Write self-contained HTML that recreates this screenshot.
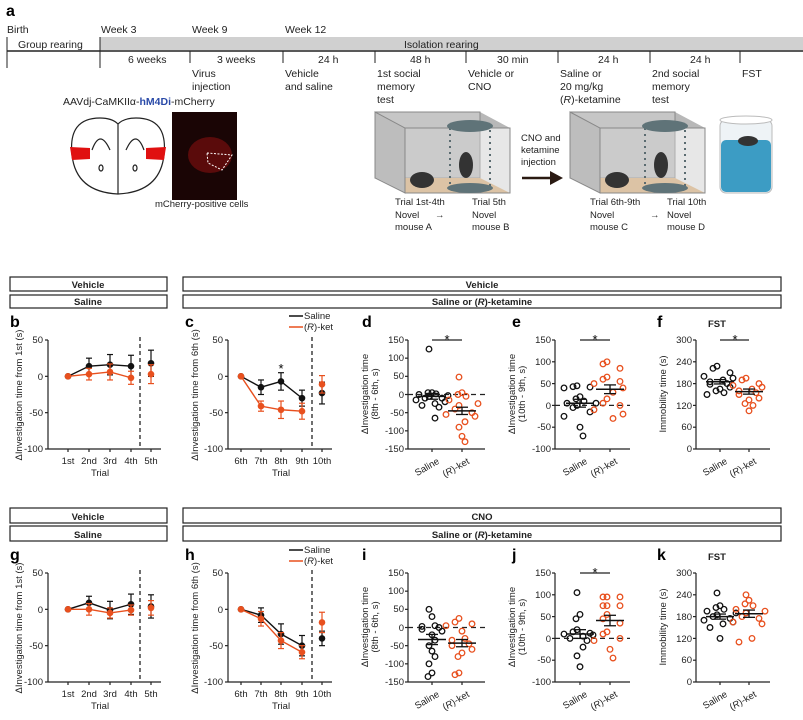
<!DOCTYPE html>
<html><head><meta charset="utf-8"><style>
body{margin:0;background:#fff}
svg{display:block;font-family:"Liberation Sans",sans-serif}
.t{font-size:10.5px;fill:#222}
.s{font-size:9.5px;fill:#222}
.b{font-weight:bold}
.L{font-size:16px;font-weight:bold}
</style></head><body>
<svg id="g" width="803" height="720" viewBox="0 0 803 720" xmlns="http://www.w3.org/2000/svg">
<rect width="803" height="720" fill="#fff"/>
<text x="6" y="16" class="L">a</text>
<g class="t">
<text x="7" y="33">Birth</text><text x="101" y="33">Week 3</text><text x="192" y="33">Week 9</text><text x="285" y="33">Week 12</text>
</g>
<rect x="100" y="37" width="703" height="13" fill="#d0d0d0"/>
<text x="404" y="48" class="t">Isolation rearing</text>
<text x="18" y="48" class="t">Group rearing</text>
<line x1="7" y1="37" x2="7" y2="68" stroke="#222"/>
<line x1="100" y1="37" x2="100" y2="68" stroke="#222"/>
<line x1="7" y1="51" x2="803" y2="51" stroke="#222" stroke-width="1.5"/>
<g stroke="#222"><line x1="190" y1="51" x2="190" y2="63"/><line x1="283" y1="51" x2="283" y2="63"/><line x1="375" y1="51" x2="375" y2="63"/><line x1="466" y1="51" x2="466" y2="63"/><line x1="558" y1="51" x2="558" y2="63"/><line x1="650" y1="51" x2="650" y2="63"/><line x1="740" y1="51" x2="740" y2="63"/></g>
<g class="t">
<text x="128" y="63">6 weeks</text><text x="217" y="63">3 weeks</text><text x="318" y="63">24 h</text><text x="410" y="63">48 h</text><text x="497" y="63">30 min</text><text x="598" y="63">24 h</text><text x="690" y="63">24 h</text>
<text x="192" y="77">Virus</text><text x="192" y="90">injection</text>
<text x="285" y="77">Vehicle</text><text x="285" y="90">and saline</text>
<text x="377" y="77">1st social</text><text x="377" y="90">memory</text><text x="377" y="103">test</text>
<text x="468" y="77">Vehicle or</text><text x="468" y="90">CNO</text>
<text x="560" y="77">Saline or</text><text x="560" y="90">20 mg/kg</text><text x="560" y="103">(<tspan font-style="italic">R</tspan>)-ketamine</text>
<text x="652" y="77">2nd social</text><text x="652" y="90">memory</text><text x="652" y="103">test</text>
<text x="742" y="77">FST</text>
<text x="63" y="105">AAVdj-CaMKIIα-<tspan class="b" fill="#2a4aa8">hM4Di</tspan>-mCherry</text>
</g>
<g stroke="#222" stroke-width="1.2" fill="#fff">
<path d="M72 155 Q68 118 100 118 Q112 118 118 124 Q124 118 136 118 Q168 118 164 155 Q160 192 118 194 Q76 192 72 155Z"/>
<line x1="118" y1="124" x2="118" y2="194"/>
<path d="M92 150 Q100 128 110 150" fill="none"/><path d="M126 150 Q136 128 144 150" fill="none"/>
<ellipse cx="101" cy="168" rx="2" ry="3"/><ellipse cx="135" cy="168" rx="2" ry="3"/>
</g>
<polygon points="70,147 90,148 90,159 72,160" fill="#e01010"/><polygon points="146,148 166,147 164,160 146,159" fill="#e01010"/>
<rect x="172" y="112" width="65" height="88" fill="#1a0505"/>
<ellipse cx="210" cy="155" rx="22" ry="18" fill="#6a0c0c" opacity=".8"/>
<polygon points="207,153 232,155 222,170 208,163" fill="none" stroke="#fff" stroke-dasharray="2,1.5"/>
<text x="155" y="207" class="s">mCherry-positive cells</text>
<g id="cage1">
<polygon points="375,112 480,112 510,128 405,128" fill="#b8b8b8"/>
<rect x="375" y="112" width="105" height="66" fill="#c6c6c6" stroke="#888"/>
<polygon points="375,178 480,178 510,193 405,193" fill="#e8b67a"/>
<polygon points="375,112 405,128 405,193 375,178" fill="#bdbdbd" stroke="#888"/>
<rect x="405" y="128" width="105" height="65" fill="#cfcfcf" fill-opacity=".5" stroke="#888"/>
<rect x="450" y="128" width="40" height="60" fill="none" stroke="#5a6b70" stroke-width="2" stroke-dasharray="2,4"/>
<ellipse cx="470" cy="126" rx="23" ry="6" fill="#5f7378"/>
<ellipse cx="470" cy="188" rx="23" ry="5" fill="#5f7378"/>
<ellipse cx="422" cy="180" rx="12" ry="8" fill="#333"/>
<ellipse cx="466" cy="165" rx="7" ry="13" fill="#333"/>
</g>
<use href="#cage1" x="195"/>
<g class="s">
<text x="395" y="205">Trial 1st-4th</text><text x="395" y="218">Novel</text><text x="395" y="230">mouse A</text>
<text x="435" y="218">→</text>
<text x="472" y="205">Trial 5th</text><text x="472" y="218">Novel</text><text x="472" y="230">mouse B</text>
<text x="590" y="205">Trial 6th-9th</text><text x="590" y="218">Novel</text><text x="590" y="230">mouse C</text>
<text x="650" y="218">→</text>
<text x="667" y="205">Trial 10th</text><text x="667" y="218">Novel</text><text x="667" y="230">mouse D</text>
<text x="521" y="141">CNO and</text><text x="521" y="153">ketamine</text><text x="521" y="165">injection</text>
</g>
<line x1="522" y1="178" x2="552" y2="178" stroke="#2a1a12" stroke-width="2.5"/><polygon points="550,171 563,178 550,185" fill="#2a1a12"/>
<rect x="720" y="120" width="52" height="73" rx="6" fill="#eef3f6" stroke="#bbb"/>
<rect x="721" y="140" width="50" height="52" rx="5" fill="#3c9cc4"/>
<ellipse cx="746" cy="120" rx="26" ry="4" fill="#fff" stroke="#bbb"/>
<ellipse cx="748" cy="141" rx="10" ry="5" fill="#333"/>

<g fill="none" stroke="#222" stroke-width="1.2">
<rect x="10" y="277" width="157" height="14"/><rect x="10" y="295" width="157" height="13"/>
<rect x="183" y="277" width="598" height="14"/><rect x="183" y="295" width="598" height="13"/>
<rect x="10" y="508" width="157" height="15"/><rect x="10" y="526" width="157" height="15"/>
<rect x="183" y="508" width="598" height="15"/><rect x="183" y="526" width="598" height="15"/>
</g>
<g class="s b" text-anchor="middle">
<text x="88" y="288">Vehicle</text><text x="88" y="305">Saline</text>
<text x="482" y="288">Vehicle</text><text x="482" y="305">Saline or (<tspan font-style="italic">R</tspan>)-ketamine</text>
<text x="88" y="520">Vehicle</text><text x="88" y="538">Saline</text>
<text x="482" y="520">CNO</text><text x="482" y="538">Saline or (<tspan font-style="italic">R</tspan>)-ketamine</text>
</g>
<g class="L"><text x="10" y="327">b</text><text x="185" y="327">c</text><text x="362" y="327">d</text><text x="512" y="327">e</text><text x="657" y="327">f</text>
<text x="10" y="560">g</text><text x="185" y="560">h</text><text x="362" y="560">i</text><text x="512" y="560">j</text><text x="657" y="560">k</text></g>
<g class="s b"><text x="708" y="327">FST</text><text x="708" y="560">FST</text></g>
<g class="s">
<line x1="289" y1="316" x2="303" y2="316" stroke="#111" stroke-width="1.5"/><text x="304" y="319">Saline</text>
<line x1="289" y1="327" x2="303" y2="327" stroke="#e8501e" stroke-width="1.5"/><text x="304" y="330">(<tspan font-style="italic">R</tspan>)-ket</text>
<line x1="289" y1="550" x2="303" y2="550" stroke="#111" stroke-width="1.5"/><text x="304" y="553">Saline</text>
<line x1="289" y1="561" x2="303" y2="561" stroke="#e8501e" stroke-width="1.5"/><text x="304" y="564">(<tspan font-style="italic">R</tspan>)-ket</text>
</g>
<g class="s" text-anchor="middle">
<text transform="translate(22,395) rotate(-90)">ΔInvestigation time from 1st (s)</text>
<text transform="translate(198,395) rotate(-90)">ΔInvestigation time from 6th (s)</text>
<text transform="translate(22,628) rotate(-90)">ΔInvestigation time from 1st (s)</text>
<text transform="translate(198,628) rotate(-90)">ΔInvestigation time from 6th (s)</text>
<text transform="translate(368,394) rotate(-90)">ΔInvestigation time</text><text transform="translate(378,394) rotate(-90)">(8th - 6th, s)</text>
<text transform="translate(515,394) rotate(-90)">ΔInvestigation time</text><text transform="translate(525,394) rotate(-90)">(10th - 9th, s)</text>
<text transform="translate(666,394) rotate(-90)">Immobility time (s)</text>
<text transform="translate(368,627) rotate(-90)">ΔInvestigation time</text><text transform="translate(378,627) rotate(-90)">(8th - 6th, s)</text>
<text transform="translate(515,627) rotate(-90)">ΔInvestigation time</text><text transform="translate(525,627) rotate(-90)">(10th - 9th, s)</text>
<text transform="translate(666,627) rotate(-90)">Immobility time (s)</text>
</g>
<g class="s" text-anchor="end">
<text x="43" y="343">50</text><text x="43" y="380">0</text><text x="43" y="416">-50</text><text x="43" y="452">-100</text>
<text x="223" y="343">50</text><text x="223" y="380">0</text><text x="223" y="416">-50</text><text x="223" y="452">-100</text>
<text x="43" y="576">50</text><text x="43" y="613">0</text><text x="43" y="649">-50</text><text x="43" y="685">-100</text>
<text x="223" y="576">50</text><text x="223" y="613">0</text><text x="223" y="649">-50</text><text x="223" y="685">-100</text>
</g>
<g class="s" text-anchor="middle">
<text x="68" y="464">1st</text><text x="89" y="464">2nd</text><text x="110" y="464">3rd</text><text x="131" y="464">4th</text><text x="151" y="464">5th</text><text x="100" y="476">Trial</text>
<text x="241" y="464">6th</text><text x="261" y="464">7th</text><text x="281" y="464">8th</text><text x="302" y="464">9th</text><text x="322" y="464">10th</text><text x="281" y="476">Trial</text>
<text x="68" y="697">1st</text><text x="89" y="697">2nd</text><text x="110" y="697">3rd</text><text x="131" y="697">4th</text><text x="151" y="697">5th</text><text x="100" y="709">Trial</text>
<text x="241" y="697">6th</text><text x="261" y="697">7th</text><text x="281" y="697">8th</text><text x="302" y="697">9th</text><text x="322" y="697">10th</text><text x="281" y="709">Trial</text>
</g>
<g class="s" text-anchor="end">
<text x="404" y="343">150</text><text x="404" y="361">100</text><text x="404" y="379">50</text><text x="404" y="398">0</text><text x="404" y="416">-50</text><text x="404" y="434">-100</text><text x="404" y="452">-150</text>
<text x="551" y="343">150</text><text x="551" y="365">100</text><text x="551" y="387">50</text><text x="551" y="409">0</text><text x="551" y="430">-50</text><text x="551" y="452">-100</text>
<text x="692" y="343">300</text><text x="692" y="365">240</text><text x="692" y="387">180</text><text x="692" y="409">120</text><text x="692" y="430">60</text><text x="692" y="452">0</text>
<text x="404" y="576">150</text><text x="404" y="594">100</text><text x="404" y="612">50</text><text x="404" y="631">0</text><text x="404" y="649">-50</text><text x="404" y="667">-100</text><text x="404" y="685">-150</text>
<text x="551" y="576">150</text><text x="551" y="598">100</text><text x="551" y="620">50</text><text x="551" y="642">0</text><text x="551" y="663">-50</text><text x="551" y="685">-100</text>
<text x="692" y="576">300</text><text x="692" y="598">240</text><text x="692" y="620">180</text><text x="692" y="642">120</text><text x="692" y="663">60</text><text x="692" y="685">0</text>
</g>
<g class="s" text-anchor="end">
<text transform="translate(440,463) rotate(-30)">Saline</text><text transform="translate(470,463) rotate(-30)">(<tspan font-style="italic">R</tspan>)-ket</text>
<text transform="translate(588,463) rotate(-30)">Saline</text><text transform="translate(618,463) rotate(-30)">(<tspan font-style="italic">R</tspan>)-ket</text>
<text transform="translate(728,463) rotate(-30)">Saline</text><text transform="translate(757,463) rotate(-30)">(<tspan font-style="italic">R</tspan>)-ket</text>
<text transform="translate(440,696) rotate(-30)">Saline</text><text transform="translate(470,696) rotate(-30)">(<tspan font-style="italic">R</tspan>)-ket</text>
<text transform="translate(588,696) rotate(-30)">Saline</text><text transform="translate(618,696) rotate(-30)">(<tspan font-style="italic">R</tspan>)-ket</text>
<text transform="translate(728,696) rotate(-30)">Saline</text><text transform="translate(757,696) rotate(-30)">(<tspan font-style="italic">R</tspan>)-ket</text>
</g>
<g font-size="13" text-anchor="middle"><text x="281" y="373">*</text><text x="447" y="344">*</text><text x="595" y="344">*</text><text x="735" y="344">*</text><text x="595" y="577">*</text></g>
<g id="dyn"></g>
</svg>
<script>
var NS="http://www.w3.org/2000/svg",D=document.getElementById("dyn");
function el(n,a){var e=document.createElementNS(NS,n);for(var k in a)e.setAttribute(k,a[k]);D.appendChild(e);return e;}
function ln(x1,y1,x2,y2,c,w,da){var a={x1:x1,y1:y1,x2:x2,y2:y2,stroke:c||"#222","stroke-width":w||1.2};if(da)a["stroke-dasharray"]=da;el("line",a);}
function axes(x0,x1,yT,yB,nt){ln(x0,yT,x0,yB);ln(x0,yB,x1,yB);for(var i=0;i<nt;i++){var y=yT+(yB-yT)*i/(nt-1);ln(x0-3,y,x0,y);}}
var K="#111",R="#e8501e";
function line(x0,yT,yB,mx,mn,xs,dash,b,be,r,re){
 axes(x0,x0+(xs[4]+10-x0),yT,yB,4);xs.forEach(function(x){ln(x,yB,x,yB+3)});
 ln(dash,yT-3,dash,yB,"#222",1.3,"4,3");
 function Y(v){return yT+(mx-v)/(mx-mn)*(yB-yT);}
 [[b,be,K],[r,re,R]].forEach(function(s){var d=s[0],e=s[1],c=s[2];
  var p="";for(var i=0;i<4;i++)p+=(i?"L":"M")+xs[i]+" "+Y(d[i]);
  el("path",{d:p,fill:"none",stroke:c,"stroke-width":1.4});
  for(var i=0;i<5;i++){if(e[i]){ln(xs[i],Y(d[i]-e[i]),xs[i],Y(d[i]+e[i]),c,1.2);ln(xs[i]-3,Y(d[i]-e[i]),xs[i]+3,Y(d[i]-e[i]),c,1.2);ln(xs[i]-3,Y(d[i]+e[i]),xs[i]+3,Y(d[i]+e[i]),c,1.2);}
   el("circle",{cx:xs[i],cy:Y(d[i]),r:3.3,fill:c});}
 });
}
var X1=[68,89,110,131,151],X2=[241,261,281,302,322];
line(48,340,449,50,-100,X1,140,[0,14,16,14,18],[0,11,14,15,18],[0,3,6,-2,3],[0,8,11,9,13]);
line(228,340,449,50,-100,X2,312,[0,-15,-7,-30,-23],[0,10,12,11,15],[0,-41,-46,-48,-11],[0,7,12,11,12]);
line(48,573,682,50,-100,X1,140,[0,9,-1,7,4],[0,9,12,14,16],[0,0,-5,-1,2],[0,8,7,7,10]);
line(228,573,682,50,-100,X2,312,[0,-8,-34,-50,-40],[0,10,14,14,10],[0,-13,-43,-59,-18],[0,10,11,9,14]);
function sc(x0,x1,yT,yB,mx,mn,nt,xa,xb,a,ma,sa,b,mb,sb,zero,sig){
 axes(x0,x1,yT,yB,nt);ln(xa,yB,xa,yB+3);ln(xb,yB,xb,yB+3);
 function Y(v){return yT+(mx-v)/(mx-mn)*(yB-yT);}
 if(zero)ln(x0,Y(0),x1,Y(0),"#222",1.2,"5,4");
 if(sig)ln(xa,yT,xb,yT,"#222",1.2);
 [[a,ma,sa,xa,K],[b,mb,sb,xb,R]].forEach(function(s){var d=s[0].slice().sort(function(p,q){return q-p});
  var prev=1e9,k=0;d.forEach(function(v,i){var y=Y(v);if(Math.abs(y-prev)<5)k++;else k=0;prev=y;var off=[0,-7,7,-13,13][k%5]+((i%3)-1)*3;
   el("circle",{cx:s[3]+off,cy:y,r:2.8,fill:"none",stroke:s[4],"stroke-width":1.3});});
  var m=Y(s[1]);ln(s[3]-14,m,s[3]+14,m,K,1.5);ln(s[3],Y(s[1]-s[2]),s[3],Y(s[1]+s[2]),K,1.3);
  ln(s[3]-6,Y(s[1]-s[2]),s[3]+6,Y(s[1]-s[2]),K,1.3);ln(s[3]-6,Y(s[1]+s[2]),s[3]+6,Y(s[1]+s[2]),K,1.3);});
}
sc(408,485,340,449,150,-150,7,432,462,[125,5,2,5,0,-3,-5,-10,-15,-20,-25,-30,-35,-65,-10],-5,8,[48,5,0,-5,-15,-25,-30,-40,-50,-60,-75,-90,-115,-130,-55],-45,10,1,1);
sc(555,630,340,449,150,-100,6,580,610,[45,43,42,40,20,15,10,5,0,-5,-15,-25,-50,-70,5],5,9,[100,95,85,65,60,55,50,40,30,15,5,0,-10,-20,-30],37,10,1,1);
sc(696,770,340,449,300,0,6,720,749,[228,222,210,200,195,190,185,180,178,170,165,160,155,150],185,6,[195,190,180,175,170,165,160,155,150,140,135,125,120,105],158,7,0,1);
sc(408,485,573,682,150,-150,7,432,462,[50,30,5,3,0,-5,-10,-20,-35,-50,-65,-80,-100,-125,-135],-33,14,[25,15,10,5,-10,-30,-35,-45,-50,-60,-70,-80,-125,-130],-43,10,1,0);
sc(555,630,573,682,150,-100,6,580,610,[105,55,45,20,15,10,8,5,0,-5,-20,-40,-65,12],10,10,[95,95,95,75,75,75,55,45,35,15,10,0,-25,-45,-5],41,12,1,1);
sc(696,770,573,682,300,0,6,720,749,[245,210,205,200,195,190,185,180,175,170,165,160,150,120],180,7,[240,225,215,210,200,195,190,180,175,165,160,120,110],188,10,0,0);
</script>
</body></html>
